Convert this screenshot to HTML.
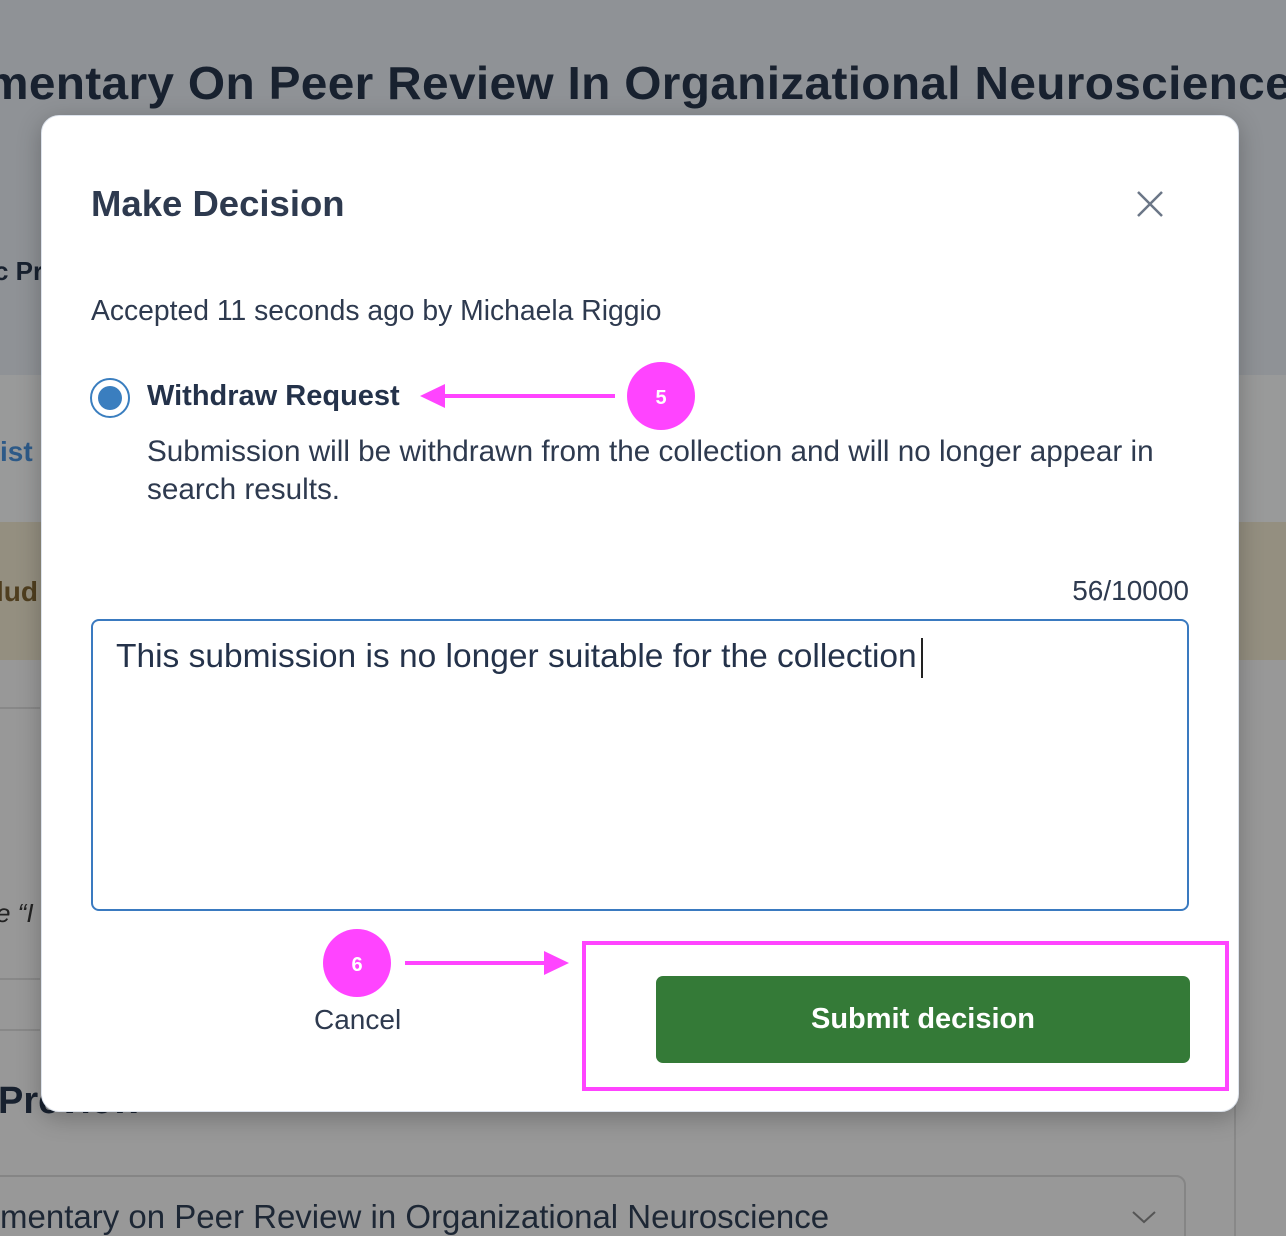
<!DOCTYPE html>
<html><head><meta charset="utf-8"><style>
*{margin:0;padding:0;box-sizing:border-box}
html{width:1286px;height:1236px;overflow:hidden}
body{width:1286px;height:1236px;position:relative;overflow:hidden;background:#989898;font-family:"Liberation Sans","DejaVu Sans",sans-serif;color:#2b374b}
.a{position:absolute;white-space:nowrap}
</style></head><body>
<div class="a" style="left:0;top:0;width:1286px;height:375px;background:#8f9296"></div>
<div class="a" style="left:0;top:375px;width:1286px;height:147px;background:#999a9a"></div>
<div class="a" style="left:0;top:522px;width:1286px;height:138px;background:#948f80"></div>
<div class="a" style="left:-14px;top:56px;font-size:46px;font-weight:bold;color:#18212f;letter-spacing:0.3px;transform:scaleX(1.04);transform-origin:0 0">mentary On Peer Review In Organizational Neuroscience</div>
<div class="a" style="left:-6px;top:256px;font-size:26px;font-weight:bold;color:#18212f">c Pr</div>
<div class="a" style="left:0;top:436px;font-size:28px;font-weight:bold;color:#2d5a88">ist</div>
<div class="a" style="left:-4px;top:576px;font-size:28px;font-weight:bold;color:#4f3e1f">lud</div>
<div class="a" style="left:0;top:707px;width:40px;height:2px;background:#888"></div>
<div class="a" style="left:-4px;top:898px;font-size:26px;font-style:italic;color:#222">e “I</div>
<div class="a" style="left:0;top:978px;width:40px;height:2px;background:#888"></div>
<div class="a" style="left:0;top:1029px;width:40px;height:2px;background:#888"></div>
<div class="a" style="left:-2px;top:1080px;font-size:38px;font-weight:bold;color:#18212f">Preview</div>
<div class="a" style="left:-20px;top:1175px;width:1206px;height:80px;border:2px solid #858585;border-radius:10px"></div>
<div class="a" style="left:0;top:1198px;font-size:33px;color:#1d2735">mentary on Peer Review in Organizational Neuroscience</div>
<svg class="a" style="left:1131px;top:1208px" width="26" height="18"><path d="M2 4L13 14L24 4" stroke="#555" stroke-width="2" fill="none"/></svg>
<div class="a" style="left:1234px;top:1100px;width:2px;height:136px;background:#888"></div>

<div class="a" style="left:41px;top:115px;width:1198px;height:997px;background:#fff;border-radius:18px;box-shadow:0 6px 24px rgba(0,0,0,0.25);border:1px solid #dde3ec"></div>
<div class="a" style="left:91px;top:183px;font-size:36.5px;font-weight:bold;color:#2e3a4f">Make Decision</div>
<svg class="a" style="left:1136px;top:190px" width="28" height="28"><path d="M2 2L26 26M26 2L2 26" stroke="#6b7687" stroke-width="2.5"/></svg>
<div class="a" style="left:91px;top:294px;font-size:28.3px;color:#2e3a4f">Accepted 11 seconds ago by Michaela Riggio</div>
<div class="a" style="left:90px;top:378px;width:40px;height:40px;border:2.5px solid #3a7ebf;border-radius:50%"></div>
<div class="a" style="left:98px;top:386px;width:24px;height:24px;background:#3a7ebf;border-radius:50%"></div>
<div class="a" style="left:147px;top:380px;font-size:29px;font-weight:bold;color:#24324a">Withdraw Request</div>
<div class="a" style="left:147px;top:433px;font-size:29.7px;line-height:38px;color:#2e3a4f;white-space:normal;width:1025px">Submission will be withdrawn from the collection and will no longer appear in search results.</div>
<div class="a" style="right:97px;top:575px;font-size:28px;color:#2e3a4f">56/10000</div>
<div class="a" style="left:91px;top:619px;width:1098px;height:292px;border:2px solid #3a7ac0;border-radius:8px"></div>
<div class="a" style="left:116px;top:638px;font-size:33.5px;color:#24324a">This submission is no longer suitable for the collection</div>
<div class="a" style="left:921px;top:638px;width:2px;height:40px;background:#222"></div>
<div class="a" style="left:314px;top:1004px;font-size:28px;color:#2e3a4f">Cancel</div>
<div class="a" style="left:656px;top:976px;width:534px;height:87px;background:#347a37;border-radius:7px;color:#fff;font-size:29px;font-weight:bold;text-align:center;line-height:87px">Submit decision</div>

<svg class="a" style="left:0;top:0" width="1286" height="1236">
<rect x="584" y="943" width="643" height="146" fill="none" stroke="#ff44ff" stroke-width="4"/>
<circle cx="661" cy="396" r="34" fill="#ff44ff"/>
<text x="661" y="404" font-family="Liberation Sans" font-size="20" font-weight="bold" fill="#fff" text-anchor="middle">5</text>
<line x1="615" y1="396" x2="440" y2="396" stroke="#ff44ff" stroke-width="4"/>
<polygon points="420,396 445,384 445,408" fill="#ff44ff"/>
<circle cx="357" cy="963" r="34" fill="#ff44ff"/>
<text x="357" y="971" font-family="Liberation Sans" font-size="20" font-weight="bold" fill="#fff" text-anchor="middle">6</text>
<line x1="405" y1="963" x2="548" y2="963" stroke="#ff44ff" stroke-width="4"/>
<polygon points="569,963 544,951 544,975" fill="#ff44ff"/>
</svg>
</body></html>
